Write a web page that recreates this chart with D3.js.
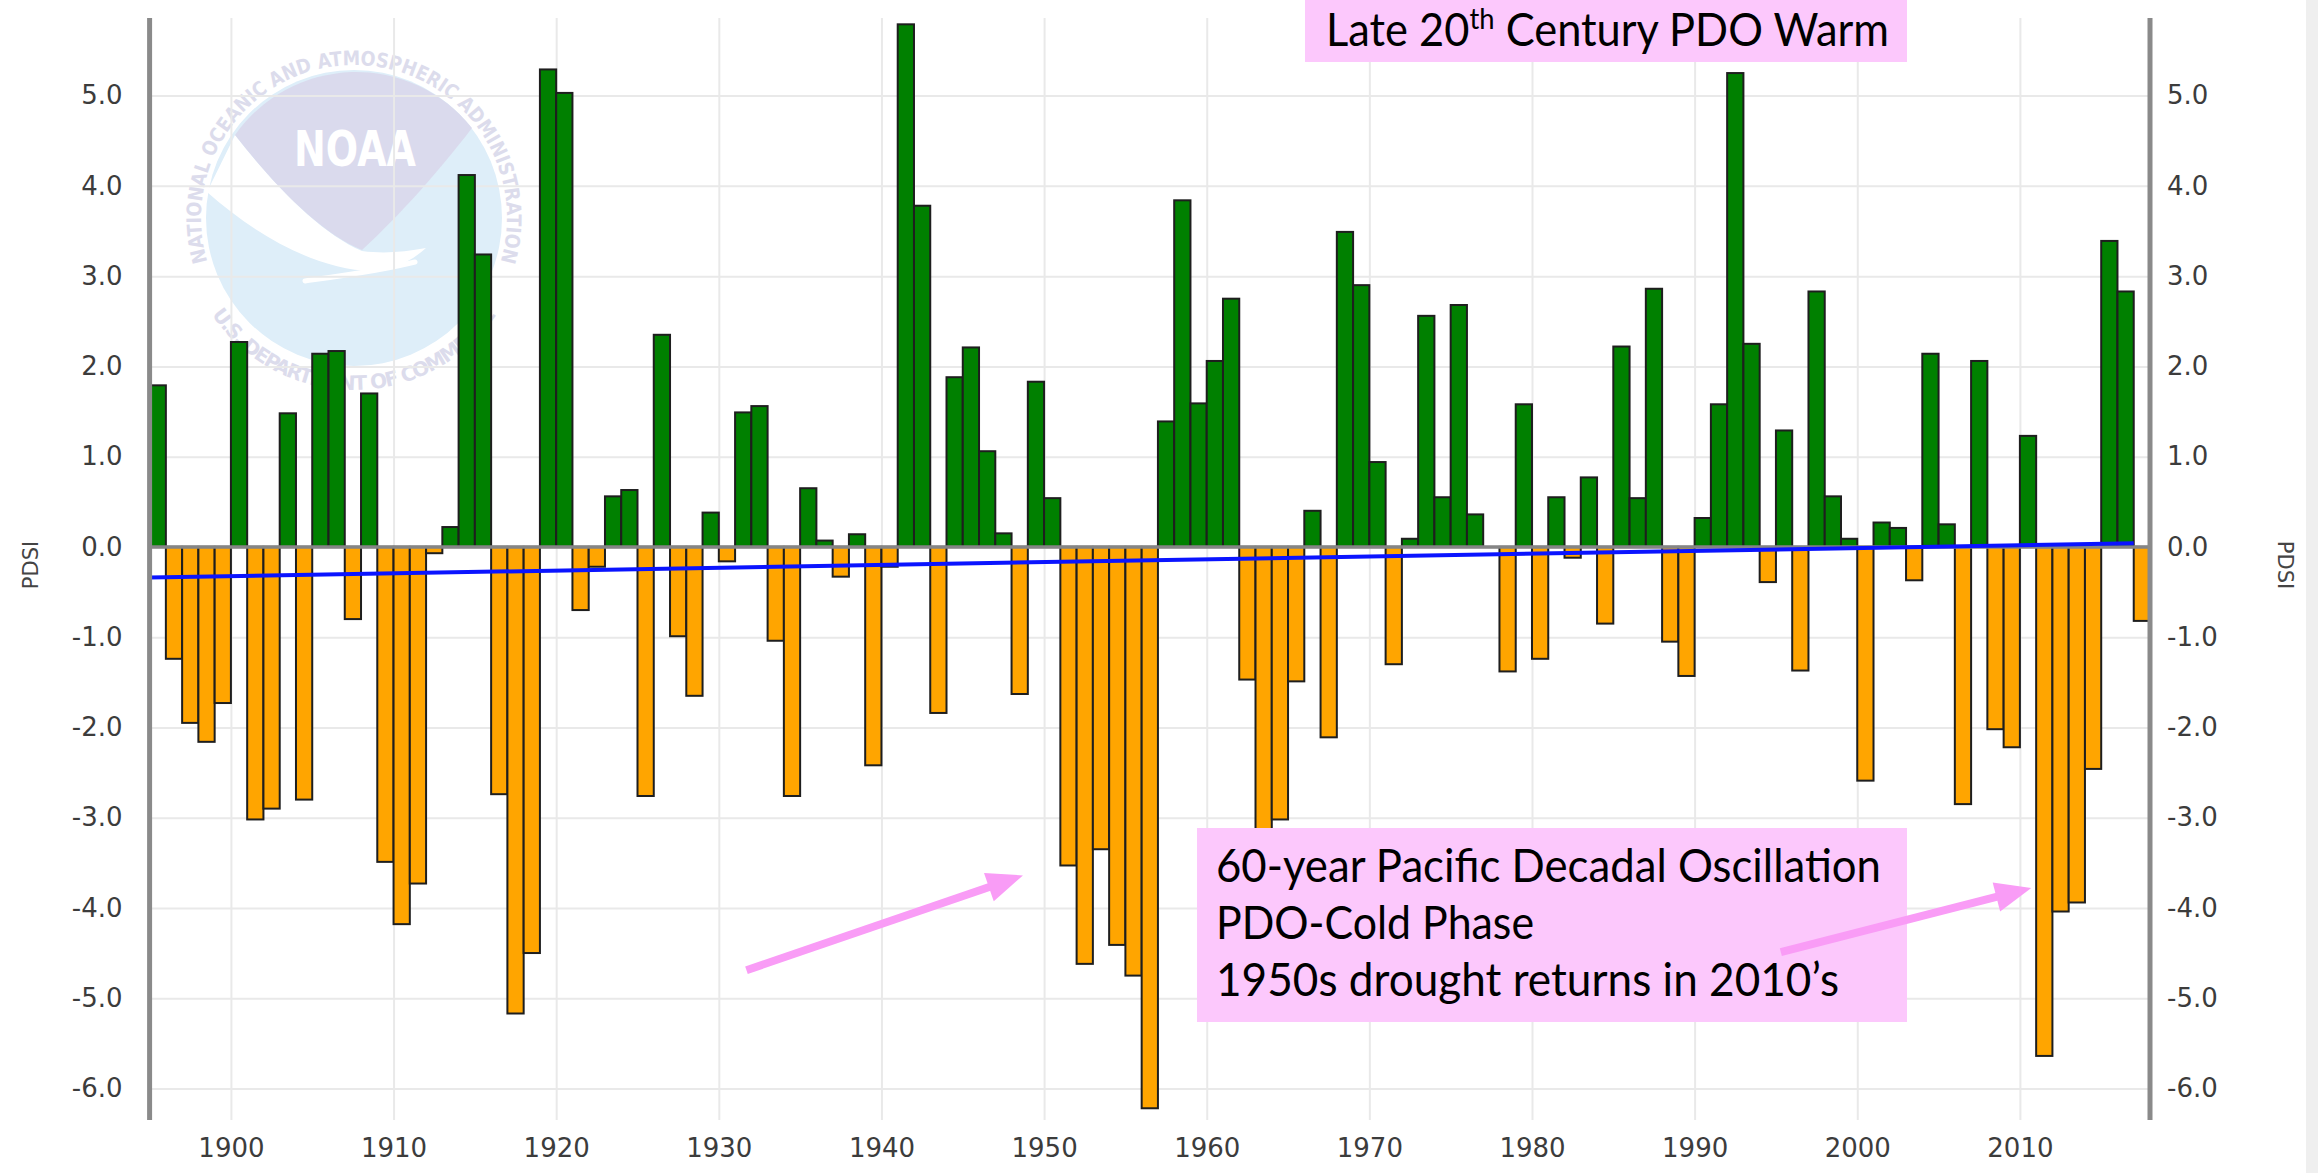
<!DOCTYPE html>
<html>
<head>
<meta charset="utf-8">
<script src="https://cdn.jsdelivr.net/npm/d3@7"></script>
<style>
  html, body { margin: 0; padding: 0; background: #fff; }
  svg { display: block; }
</style>
</head>
<body>
<div id="chart"></div>
<script>
// annual PDSI, one value per year starting 1895
const years = d3.range(1895, 2018);
const pdsi = [
  1.79, -1.24, -1.95, -2.16, -1.73,                                   // 1895-1899
  2.27, -3.02, -2.90, 1.48, -2.80, 2.14, 2.17, -0.80, 1.70, -3.49,    // 1900s
  -4.18, -3.73, -0.07, 0.22, 4.12, 3.24, -2.74, -5.17, -4.50, 5.29,   // 1910s
  5.03, -0.70, -0.22, 0.56, 0.63, -2.76, 2.35, -0.99, -1.65, 0.38,    // 1920s
  -0.16, 1.49, 1.56, -1.04, -2.76, 0.65, 0.07, -0.33, 0.14, -2.42,    // 1930s
  -0.22, 5.79, 3.78, -1.84, 1.88, 2.21, 1.06, 0.15, -1.63, 1.83,      // 1940s
  0.54, -3.53, -4.62, -3.35, -4.41, -4.75, -6.22, 1.39, 3.84, 1.59,   // 1950s
  2.06, 2.75, -1.47, -3.60, -3.02, -1.49, 0.40, -2.11, 3.49, 2.90,    // 1960s
  0.94, -1.30, 0.09, 2.56, 0.55, 2.68, 0.36, 0.00, -1.38, 1.58,       // 1970s
  -1.24, 0.55, -0.12, 0.77, -0.85, 2.22, 0.54, 2.86, -1.05, -1.43,    // 1980s
  0.32, 1.58, 5.25, 2.25, -0.39, 1.29, -1.37, 2.83, 0.56, 0.09,       // 1990s
  -2.59, 0.27, 0.21, -0.37, 2.14, 0.25, -2.85, 2.06, -2.02, -2.22,    // 2000s
  1.23, -5.64, -4.04, -3.94, -2.46, 3.39, 2.83, -0.82                 // 2010s
];
// blue linear trend, end points
const trendYears = [1895, 2017];
const trendValues = [-0.34, 0.04];

const yTicks = [5, 4, 3, 2, 1, 0, -1, -2, -3, -4, -5, -6];
const xTicks = [1900, 1910, 1920, 1930, 1940, 1950, 1960, 1970, 1980, 1990, 2000, 2010];

const warmNote = ["Late 20", "th", " Century PDO Warm"];
const coldNote = ["60-year Pacific Decadal Oscillation", "PDO-Cold Phase", "1950s drought returns in 2010\u2019s"];
// arrows as [year, value] pairs: from -> to
const arrows = [
  [[1931.7, -4.69], [1948.7, -3.64]],
  [[1995.3, -4.49], [2010.7, -3.78]]
];

const width = 2318, height = 1173;
const plotLeft = 149.6, plotRight = 2150, plotTop = 18, plotBottom = 1120;
const pink = "#fcc8fc", arrowPink = "#f99cf6";
const tickFont = "'DejaVu Sans', Verdana, sans-serif";
const noteFont = "Lato, 'Open Sans', sans-serif";

const data = years.map((yr, i) => ({ year: yr, value: pdsi[i] }));

const x = d3.scaleLinear().domain([1895, 2018]).range([plotLeft, plotRight]);
const y = d3.scaleLinear().domain([-6.35, 5.86]).range([plotBottom, plotTop]);

const svg = d3.select("#chart")
  .append("svg")
  .attr("width", width)
  .attr("height", height);

svg.append("rect").attr("width", width).attr("height", height).attr("fill", "#fff");
// light strip at the far right edge
svg.append("rect").attr("x", 2306).attr("width", 12).attr("height", height).attr("fill", "#efefef");

// faded NOAA emblem in the background
function drawLogo(cx, cy, r) {
  const g = svg.append("g").attr("class", "logo");
  g.append("circle").attr("cx", cx).attr("cy", cy).attr("r", r).attr("fill", "#deeef9");
  // white gull band
  g.append("path")
    .attr("d", `M${cx - 147},${cy - 26} C${cx - 95},${cy + 20} ${cx - 35},${cy + 52} ${cx + 18},${cy + 53}
      C${cx + 40},${cy + 52} ${cx + 56},${cy + 44} ${cx + 72},${cy + 30}
      C${cx + 50},${cy + 34} ${cx + 30},${cy + 36} ${cx + 8},${cy + 33}
      C${cx - 34},${cy + 15} ${cx - 80},${cy - 33} ${cx - 119},${cy - 83} Z`)
    .attr("fill", "#fff");
  g.append("path")
    .attr("d", `M${cx - 119},${cy - 83} A${r},${r} 0 0 1 ${cx + 118},${cy - 90}
      C${cx + 86},${cy - 48} ${cx + 46},${cy - 3} ${cx + 8},${cy + 32}
      C${cx - 34},${cy + 15} ${cx - 80},${cy - 33} ${cx - 119},${cy - 83} Z`)
    .attr("fill", "#dadaed");
  g.append("path")
    .attr("d", `M${cx - 49},${cy + 63} C${cx - 14},${cy + 58} ${cx + 31},${cy + 52} ${cx + 61},${cy + 44}`)
    .attr("fill", "none").attr("stroke", "#fff").attr("stroke-width", 5).attr("stroke-linecap", "round");
  g.append("text")
    .attr("x", cx - 60).attr("y", cy - 52)
    .attr("textLength", 122).attr("lengthAdjust", "spacingAndGlyphs")
    .attr("font-family", tickFont).attr("font-weight", "bold").attr("font-size", 50)
    .attr("fill", "#fff").text("NOAA");

  const R = 153;
  const a1 = 160 * Math.PI / 180, a2 = 20 * Math.PI / 180;
  g.append("path").attr("id", "ringTop").attr("fill", "none")
    .attr("d", `M${cx + R * Math.cos(a1)},${cy + R * Math.sin(a1)} A${R},${R} 0 1 1 ${cx + R * Math.cos(a2)},${cy + R * Math.sin(a2)}`);
  const R2 = 172, b1 = 150 * Math.PI / 180, b2 = 30 * Math.PI / 180;
  g.append("path").attr("id", "ringBottom").attr("fill", "none")
    .attr("d", `M${cx + R2 * Math.cos(b1)},${cy + R2 * Math.sin(b1)} A${R2},${R2} 0 0 0 ${cx + R2 * Math.cos(b2)},${cy + R2 * Math.sin(b2)}`);
  g.append("text").attr("font-family", tickFont).attr("font-weight", "bold").attr("font-size", 20)
    .attr("fill", "#dcdcec")
    .append("textPath").attr("href", "#ringTop").attr("startOffset", "50%").attr("text-anchor", "middle")
    .attr("textLength", R * 3.72).attr("lengthAdjust", "spacingAndGlyphs")
    .text("NATIONAL OCEANIC AND ATMOSPHERIC ADMINISTRATION");
  g.append("text").attr("font-family", tickFont).attr("font-weight", "bold").attr("font-size", 20)
    .attr("fill", "#dcdcec")
    .append("textPath").attr("href", "#ringBottom").attr("startOffset", "50%").attr("text-anchor", "middle")
    .attr("textLength", R2 * 1.95).attr("lengthAdjust", "spacing")
    .text("U.S. DEPARTMENT OF COMMERCE");
}
drawLogo(354, 218, 148);

// grid
svg.append("g")
  .attr("class", "y-grid")
  .attr("transform", "translate(" + plotLeft + ",0)")
  .call(d3.axisLeft(y).tickValues(yTicks).tickSize(-(plotRight - plotLeft)).tickFormat(""))
  .call(g => g.select(".domain").remove())
  .call(g => g.selectAll("text").remove())
  .call(g => g.selectAll("line").attr("stroke", "#e9e9e9").attr("stroke-width", 2));

svg.append("g")
  .attr("class", "x-grid")
  .attr("transform", "translate(0," + plotBottom + ")")
  .call(d3.axisBottom(x).tickValues(xTicks).tickSize(-(plotBottom - plotTop)).tickFormat(""))
  .call(g => g.select(".domain").remove())
  .call(g => g.selectAll("text").remove())
  .call(g => g.selectAll("line").attr("stroke", "#e9e9e9").attr("stroke-width", 2));

// bars
svg.append("g")
  .attr("class", "bars")
  .selectAll("rect")
  .data(data.filter(d => d.value !== 0))
  .join("rect")
  .attr("x", d => x(d.year))
  .attr("width", d => x(d.year + 1) - x(d.year))
  .attr("y", d => y(Math.max(0, d.value)))
  .attr("height", d => Math.abs(y(d.value) - y(0)))
  .attr("fill", d => d.value > 0 ? "#008000" : "#ffa500")
  .attr("stroke", "#1e1e1e")
  .attr("stroke-width", 2);

// zero line
svg.append("line")
  .attr("x1", plotLeft).attr("x2", plotRight)
  .attr("y1", y(0)).attr("y2", y(0))
  .attr("stroke", "#858585").attr("stroke-width", 3.5);

// trend line
svg.append("path")
  .datum(trendYears.map((yr, i) => [yr, trendValues[i]]))
  .attr("fill", "none")
  .attr("stroke", "#0a14ff")
  .attr("stroke-width", 4)
  .attr("d", d3.line().x(d => x(d[0])).y(d => y(d[1])));

// axes
const fmt = d => d.toFixed(1);
svg.append("g")
  .attr("class", "y-axis")
  .attr("transform", "translate(" + plotLeft + ",0)")
  .call(d3.axisLeft(y).tickValues(yTicks).tickSize(0).tickPadding(27).tickFormat(fmt))
  .call(g => g.select(".domain").remove())
  .call(g => g.selectAll("text").attr("font-family", tickFont).attr("font-size", 26).attr("fill", "#3c3c3c"));

svg.append("g")
  .attr("class", "y-axis-right")
  .attr("transform", "translate(" + plotRight + ",0)")
  .call(d3.axisRight(y).tickValues(yTicks).tickSize(0).tickPadding(17).tickFormat(fmt))
  .call(g => g.select(".domain").remove())
  .call(g => g.selectAll("text").attr("font-family", tickFont).attr("font-size", 26).attr("fill", "#3c3c3c"));

svg.append("g")
  .attr("class", "x-axis")
  .attr("transform", "translate(0," + plotBottom + ")")
  .call(d3.axisBottom(x).tickValues(xTicks).tickSize(0).tickPadding(19).tickFormat(d3.format("d")))
  .call(g => g.select(".domain").remove())
  .call(g => g.selectAll("text").attr("font-family", tickFont).attr("font-size", 26).attr("fill", "#3c3c3c"));

[plotLeft, plotRight].forEach(xx => {
  svg.append("line")
    .attr("x1", xx).attr("x2", xx).attr("y1", plotTop).attr("y2", plotBottom)
    .attr("stroke", "#8a8a8a").attr("stroke-width", 5);
});

svg.append("text")
  .attr("transform", "translate(31,565) rotate(-90)")
  .attr("text-anchor", "middle").attr("dy", "0.35em")
  .attr("font-family", tickFont).attr("font-size", 21).attr("fill", "#444")
  .text("PDSI");
svg.append("text")
  .attr("transform", "translate(2285,565) rotate(90)")
  .attr("text-anchor", "middle").attr("dy", "0.35em")
  .attr("font-family", tickFont).attr("font-size", 21).attr("fill", "#444")
  .text("PDSI");

// annotations
svg.append("rect").attr("x", 1305).attr("y", 0).attr("width", 602).attr("height", 62).attr("fill", pink);
const warm = svg.append("text")
  .attr("x", 1326).attr("y", 46)
  .attr("textLength", 563).attr("lengthAdjust", "spacingAndGlyphs")
  .attr("font-family", noteFont).attr("font-size", 46).attr("fill", "#000");
warm.append("tspan").text(warmNote[0]);
warm.append("tspan").attr("dy", -17).attr("font-size", 29).text(warmNote[1]);
warm.append("tspan").attr("dy", 17).text(warmNote[2]);

svg.append("rect").attr("x", 1197).attr("y", 828).attr("width", 710).attr("height", 194).attr("fill", pink);
const lineWidths = [665, 318, 623];
coldNote.forEach((t, i) => {
  svg.append("text")
    .attr("x", 1216).attr("y", 882 + i * 57)
    .attr("textLength", lineWidths[i]).attr("lengthAdjust", "spacingAndGlyphs")
    .attr("font-family", noteFont).attr("font-size", 46).attr("fill", "#000")
    .text(t);
});

arrows.forEach(a => {
  const x1 = x(a[0][0]), y1 = y(a[0][1]), x2 = x(a[1][0]), y2 = y(a[1][1]);
  const dx = x2 - x1, dy = y2 - y1, len = Math.hypot(dx, dy);
  const ux = dx / len, uy = dy / len, hl = 36, hw = 15;
  const bx = x2 - ux * hl, by = y2 - uy * hl;
  svg.append("line")
    .attr("x1", x1).attr("y1", y1).attr("x2", bx + ux * 2).attr("y2", by + uy * 2)
    .attr("stroke", arrowPink).attr("stroke-width", 8);
  svg.append("path")
    .attr("d", `M${x2},${y2}L${bx - uy * hw},${by + ux * hw}L${bx + uy * hw},${by - ux * hw}Z`)
    .attr("fill", arrowPink);
});
</script>
</body>
</html>
